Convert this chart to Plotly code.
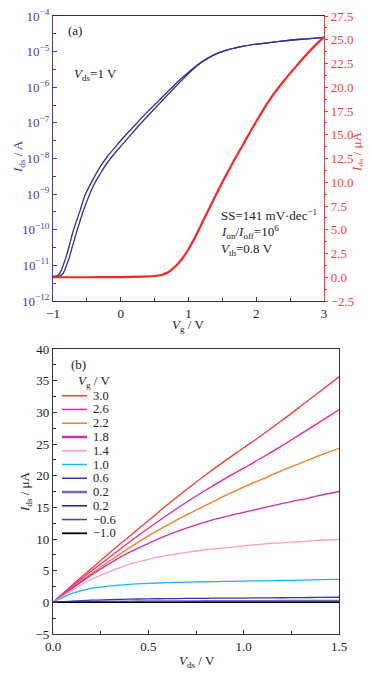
import plotly.graph_objects as go

# ---------- (a) transfer curves ----------
vg = [-1.0, -0.95, -0.9, -0.85, -0.8, -0.75, -0.7, -0.6, -0.52, -0.4, -0.3, -0.2, -0.1,
      0.0, 0.2, 0.4, 0.6, 0.8, 1.0, 1.2, 1.4, 1.6, 1.8, 2.0, 2.25, 2.5, 2.75, 3.0]
ids_fwd = [5.0e-12, 5.0e-12, 6.0e-12, 1.0e-11, 1.9e-11, 4.2e-11, 9.5e-11, 3.5e-10, 1.0e-9,
           2.8e-9, 6.0e-9, 1.12e-8, 1.9e-8, 3.2e-8, 8.3e-8, 2.1e-7, 5.0e-7, 1.2e-6,
           2.63e-6, 5.25e-6, 8.5e-6, 1.15e-5, 1.4e-5, 1.62e-5, 1.86e-5, 2.09e-5, 2.29e-5, 2.51e-5]
ids_rev = [4.8e-12, 4.8e-12, 5.0e-12, 6.0e-12, 1.0e-11, 1.9e-11, 4.2e-11, 1.78e-10, 5.0e-10,
           1.78e-9, 3.8e-9, 7.6e-9, 1.32e-8, 2.2e-8, 6.0e-8, 1.58e-7, 4.0e-7, 1.0e-6,
           2.45e-6, 5.1e-6, 8.5e-6, 1.15e-5, 1.4e-5, 1.62e-5, 1.86e-5, 2.09e-5, 2.29e-5, 2.51e-5]
vg_lin = [-1.0, -0.5, 0.0, 0.3, 0.5, 0.6, 0.7, 0.8, 0.9, 1.0, 1.1, 1.2, 1.3, 1.4, 1.5, 1.6,
          1.7, 1.8, 2.0, 2.2, 2.4, 2.6, 2.8, 3.0]
ids_lin = [0.0, 0.0, 0.02, 0.06, 0.13, 0.24, 0.52, 1.1, 1.9, 2.95, 4.25, 5.7, 7.15, 8.6, 10.0,
           11.35, 12.65, 13.9, 16.4, 18.7, 20.6, 22.3, 23.9, 25.3]

log_tick_vals = [1e-12, 1e-11, 1e-10, 1e-9, 1e-8, 1e-7, 1e-6, 1e-5, 1e-4]
log_tick_text = ["10<sup>\u221212</sup>", "10<sup>\u221211</sup>", "10<sup>\u221210</sup>",
                 "10<sup>\u22129</sup>", "10<sup>\u22128</sup>", "10<sup>\u22127</sup>",
                 "10<sup>\u22126</sup>", "10<sup>\u22125</sup>", "10<sup>\u22124</sup>"]
right_ticks = [-2.5, 0.0, 2.5, 5.0, 7.5, 10.0, 12.5, 15.0, 17.5, 20.0, 22.5, 25.0, 27.5]

# ---------- (b) output curves ----------
vds = [0.0, 0.1, 0.2, 0.3, 0.4, 0.5, 0.6, 0.7, 0.8, 0.9, 1.0, 1.1, 1.2, 1.3, 1.4, 1.5]
vg_labels = ["3.0", "2.6", "2.2", "1.8", "1.4", "1.0", "0.6", "0.2", "0.2", "\u22120.6", "\u22121.0"]
out_curves = [
    [0, 2.7, 5.3, 7.9, 10.4, 12.9, 15.4, 17.8, 20.1, 22.3, 24.4, 26.5, 28.7, 31.0, 33.3, 35.6],
    [0, 2.5, 4.9, 7.2, 9.5, 11.7, 13.8, 15.8, 17.7, 19.5, 21.2, 22.9, 24.7, 26.6, 28.5, 30.4],
    [0, 2.3, 4.5, 6.6, 8.6, 10.5, 12.2, 13.8, 15.3, 16.8, 18.2, 19.5, 20.8, 22.0, 23.2, 24.3],
    [0, 2.2, 4.3, 6.2, 7.9, 9.3, 10.6, 11.7, 12.7, 13.5, 14.2, 14.9, 15.6, 16.2, 16.9, 17.5],
    [0, 1.9, 3.6, 4.9, 6.0, 6.8, 7.4, 7.9, 8.3, 8.6, 8.9, 9.2, 9.4, 9.6, 9.8, 9.95],
    [0, 1.4, 2.2, 2.6, 2.85, 3.0, 3.1, 3.2, 3.25, 3.3, 3.35, 3.4, 3.45, 3.5, 3.57, 3.63],
    [0, 0.2, 0.35, 0.42, 0.5, 0.55, 0.58, 0.61, 0.64, 0.66, 0.68, 0.7, 0.72, 0.75, 0.78, 0.8],
    [0, 0.1, 0.15, 0.18, 0.2, 0.22, 0.23, 0.24, 0.25, 0.26, 0.27, 0.28, 0.29, 0.3, 0.31, 0.32],
    [0, 0.02, 0.03, 0.03, 0.04, 0.04, 0.04, 0.05, 0.05, 0.05, 0.05, 0.05, 0.05, 0.05, 0.05, 0.05],
    [0] * 16,
    [0] * 16,
]
out_colors = ["#f93a2e", "#f0209a", "#ff7a28", "#d22ea0", "#ff9cc8", "#22b4f0",
              "#3535b0", "#6a6ac8", "#22226e", "#48487e", "#000000"]
legend_widths = [1.5, 1.5, 1.5, 2.5, 1.5, 1.5, 1.5, 2.5, 1.5, 1.5, 1.8]

# page body has an 8 px default margin: figure placed so it fills the 371x675 window
OFF = 8
W, H = 371 - OFF, 675 - OFF
def px(x):
    return (x - OFF) / W
def py(y):
    return 1 - (y - OFF) / H

BLUE = "#2f2f9a"
BLUE_T = "#3c3cb4"
RED = "#ff2323"
RED_T = "#ff3a3a"
FONT = "Liberation Serif"

fig = go.Figure()
fig.add_trace(go.Scatter(x=vg, y=ids_fwd, mode="lines", line=dict(color=BLUE, width=1.3, shape="spline", smoothing=0.8),
                         xaxis="x", yaxis="y", showlegend=False))
fig.add_trace(go.Scatter(x=vg, y=ids_rev, mode="lines", line=dict(color=BLUE, width=1.3, shape="spline", smoothing=0.8),
                         xaxis="x", yaxis="y", showlegend=False))
fig.add_trace(go.Scatter(x=vg_lin, y=ids_lin, mode="lines", line=dict(color=RED, width=2.2, shape="spline", smoothing=0.8),
                         xaxis="x", yaxis="y2", showlegend=False))

for ys, c in zip(out_curves, out_colors):
    fig.add_trace(go.Scatter(x=vds, y=ys, mode="lines", line=dict(color=c, width=1.3, shape="spline", smoothing=0.8),
                             xaxis="x2", yaxis="y3", showlegend=False))

tickfont = dict(family=FONT, size=13, color="#222")
minor_log = [3.16e-12, 3.16e-11, 3.16e-10, 3.16e-9, 3.16e-8, 3.16e-7, 3.16e-6, 3.16e-5]

fig.update_layout(
    template="none",
    width=W, height=H, autosize=False,
    margin=dict(l=0, r=0, t=0, b=0, pad=0),
    paper_bgcolor="white", plot_bgcolor="white",
    font=dict(family=FONT, size=13, color="#222"),
    xaxis=dict(domain=[px(53), px(324)], range=[-1, 3], anchor="y", automargin=False,
               tickvals=[-1, 0, 1, 2, 3], ticktext=["\u22121", "0", "1", "2", "3"],
               ticks="inside", ticklen=4, tickcolor="#333", showline=True, linecolor="#333",
               linewidth=1.2, mirror=True, showgrid=False, zeroline=False, tickfont=tickfont,
               minor=dict(tickvals=[-0.5, 0.5, 1.5, 2.5], ticks="inside", ticklen=2.5, tickcolor="#333", showgrid=False)),
    yaxis=dict(domain=[py(301), py(16)], type="log", range=[-12.0005, -3.9995], anchor="x", automargin=False,
               tickvals=log_tick_vals, ticktext=log_tick_text, ticklabeloverflow="allow",
               ticks="inside", ticklen=4, tickcolor=BLUE_T, showline=True, linecolor=BLUE_T,
               linewidth=1.2, showgrid=False, zeroline=False,
               tickfont=dict(family=FONT, size=13, color=BLUE_T),
               minor=dict(tickvals=minor_log, ticks="inside", ticklen=2.5, tickcolor=BLUE_T, showgrid=False)),
    yaxis2=dict(overlaying="y", side="right", range=[-2.5, 27.5], anchor="x", automargin=False,
                tickvals=right_ticks, ticktext=["\u22122.5"] + ["%.1f" % v for v in right_ticks[1:]],
                ticklabeloverflow="allow",
                ticks="outside", ticklen=3, tickcolor=RED_T, showline=True, linecolor=RED_T,
                linewidth=1.2, showgrid=False, zeroline=False,
                tickfont=dict(family=FONT, size=13, color=RED_T),
                minor=dict(dtick=1.25, ticks="outside", ticklen=2, tickcolor=RED_T, showgrid=False)),
    xaxis2=dict(domain=[px(53), px(339)], range=[0, 1.5], anchor="y3", automargin=False,
                tickvals=[0, 0.5, 1.0, 1.5], ticktext=["0.0", "0.5", "1.0", "1.5"],
                ticks="inside", ticklen=4, tickcolor="#333", showline=True, linecolor="#333",
                linewidth=1.2, mirror=True, showgrid=False, zeroline=False, tickfont=tickfont,
                minor=dict(dtick=0.25, ticks="inside", ticklen=2.5, tickcolor="#333", showgrid=False)),
    yaxis3=dict(domain=[py(634), py(349)], range=[-5, 40], anchor="x2", automargin=False,
                tickvals=[-5, 0, 5, 10, 15, 20, 25, 30, 35, 40],
                ticktext=["\u22125", "0", "5", "10", "15", "20", "25", "30", "35", "40"],
                ticks="inside", ticklen=4, tickcolor="#333", showline=True, linecolor="#333",
                linewidth=1.2, mirror=True, showgrid=False, zeroline=False, tickfont=tickfont,
                minor=dict(dtick=2.5, ticks="inside", ticklen=2.5, tickcolor="#333", showgrid=False)),
)

ann = []
def add_text(x, y, text, color="#222", size=13, angle=0, xanchor="center"):
    ann.append(dict(x=px(x), y=py(y), xref="paper", yref="paper", text=text, showarrow=False,
                    font=dict(family=FONT, size=size, color=color), textangle=angle,
                    xanchor=xanchor, yanchor="middle"))

add_text(18, 157, "<i>I</i><sub>ds</sub> / A", color=BLUE_T, angle=-90)
add_text(357, 152, "<i>I</i><sub>ds</sub> / \u03bcA", color=RED_T, angle=-90)
add_text(188, 326, "<i>V</i><sub>g</sub> / V")
add_text(66, 31, "(a)", xanchor="left")
add_text(72, 74, "<i>V</i><sub>ds</sub>=1 V", xanchor="left")
add_text(219, 215, "SS=141 mV\u00b7dec<sup>\u22121</sup>", xanchor="left")
add_text(219, 232, "<i>I</i><sub>on</sub>/<i>I</i><sub>off</sub>=10<sup>6</sup>", xanchor="left")
add_text(219, 249, "<i>V</i><sub>th</sub>=0.8 V", xanchor="left")

add_text(25, 492, "<i>I</i><sub>ds</sub> / \u03bcA", angle=-90)
add_text(197, 661, "<i>V</i><sub>ds</sub> / V")
add_text(69, 364, "(b)", xanchor="left")
add_text(76, 381, "<i>V</i><sub>g</sub> / V", xanchor="left")

shapes = []
for i, (lab, c, w) in enumerate(zip(vg_labels, out_colors, legend_widths)):
    yy = 395.7 + i * 13.76
    shapes.append(dict(type="line", xref="paper", yref="paper", x0=px(62), x1=px(87),
                       y0=py(yy), y1=py(yy), line=dict(color=c, width=w)))
    add_text(91, yy, lab, size=12.5, xanchor="left")

fig.update_layout(annotations=ann, shapes=shapes)
fig.write_html("out.html")
